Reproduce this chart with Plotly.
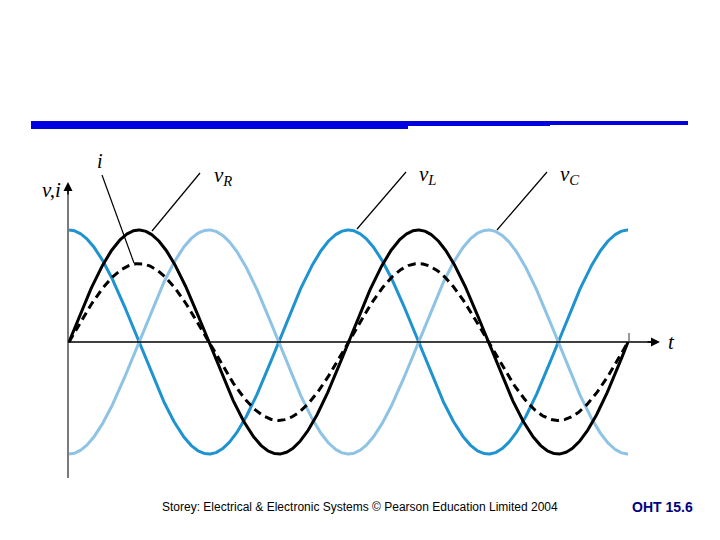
import numpy as np
import plotly.graph_objects as go

# ---- data ----
series_names = ["vL", "vC", "vR", "i"]
amplitudes = [1.0, 1.0, 1.0, 0.70]          # relative peak values
phases_deg = [90.0, -90.0, 0.0, 0.0]        # phase offsets (deg)
colors = ["#1F93D0", "#8EC3E6", "#000000", "#000000"]
t_deg = np.linspace(0, 720, 721)            # two cycles

W, H = 720, 540
OFF = 8  # page body margin
# pixel mapping used for axis ranges
x0_px, deg_per_px = 69.0 - OFF, 720.0 / 559.0
y0_px, px_per_unit = 342.0 - OFF, 112.0

xr = [-x0_px * deg_per_px, (W - x0_px) * deg_per_px]
yr = [-(H - y0_px) / px_per_unit, y0_px / px_per_unit]

def px(x):
    return (x - OFF) / W

def py(y):
    return 1 - (y - OFF) / H

fig = go.Figure()
for name, a, ph, c in zip(series_names, amplitudes, phases_deg, colors):
    yv = a * np.sin(np.radians(t_deg + ph))
    line = dict(color=c, width=3)
    if name == "i":
        line["dash"] = "8px,5px"
    fig.add_trace(go.Scatter(x=t_deg, y=yv, mode="lines", line=line,
                             name=name, hoverinfo="skip", showlegend=False))

shapes = []
# header bars
blue = "#0000E0"
shapes.append(dict(type="rect", xref="paper", yref="paper", x0=px(31), x1=px(408),
                   y0=py(129), y1=py(121), fillcolor=blue, line_width=0))
shapes.append(dict(type="rect", xref="paper", yref="paper", x0=px(408), x1=px(550),
                   y0=py(126), y1=py(121), fillcolor=blue, line_width=0))
shapes.append(dict(type="rect", xref="paper", yref="paper", x0=px(550), x1=px(688),
                   y0=py(125), y1=py(121), fillcolor=blue, line_width=0))
# axes
shapes.append(dict(type="line", xref="paper", yref="paper", x0=px(68), x1=px(68),
                   y0=py(478), y1=py(190), line=dict(color="#333333", width=1.3)))
shapes.append(dict(type="line", xref="paper", yref="paper", x0=px(68), x1=px(652),
                   y0=py(342), y1=py(342), line=dict(color="#000000", width=1.5)))
shapes.append(dict(type="line", xref="paper", yref="paper", x0=px(629), x1=px(629),
                   y0=py(333), y1=py(342), line=dict(color="#333333", width=1)))
# leader lines
for (a, b, c_, d) in [(102, 175, 134, 263), (200, 173, 152, 231),
                      (406, 172, 357, 229), (547, 172, 497, 230)]:
    shapes.append(dict(type="line", xref="paper", yref="paper", x0=px(a), y0=py(b),
                       x1=px(c_), y1=py(d), line=dict(color="#000000", width=1.2)))

annotations = []
# arrowheads
annotations.append(dict(xref="paper", yref="paper", x=px(68), y=py(182), ax=0, ay=14,
                        showarrow=True, arrowhead=2, arrowsize=1.2, arrowwidth=1.5,
                        arrowcolor="#000000", text=""))
annotations.append(dict(xref="paper", yref="paper", x=px(660), y=py(342), ax=-14, ay=0,
                        showarrow=True, arrowhead=2, arrowsize=1.2, arrowwidth=1.5,
                        arrowcolor="#000000", text=""))
serif = "Liberation Serif, DejaVu Serif, serif"
labels = [
    ("<i>v,i</i>", 51, 190, 21),
    ("<i>i</i>", 100, 161, 20),
    ("<i>v</i><sub><i>R</i></sub>", 223, 176, 21),
    ("<i>v</i><sub><i>L</i></sub>", 428, 175, 21),
    ("<i>v</i><sub><i>C</i></sub>", 569, 175, 21),
    ("<i>t</i>", 671, 342, 21),
]
for txt, x, y, s in labels:
    annotations.append(dict(xref="paper", yref="paper", x=px(x), y=py(y), text=txt,
                            showarrow=False, xanchor="center", yanchor="middle",
                            font=dict(family=serif, size=s, color="#000000")))
annotations.append(dict(xref="paper", yref="paper", x=px(360), y=py(507),
                        text="Storey: Electrical &amp; Electronic Systems © Pearson Education Limited 2004",
                        showarrow=False, xanchor="center", yanchor="middle",
                        font=dict(family="Liberation Sans, Arial", size=12, color="#000000")))
annotations.append(dict(xref="paper", yref="paper", x=px(662), y=py(507),
                        text="<b>OHT 15.6</b>", showarrow=False, xanchor="center",
                        yanchor="middle",
                        font=dict(family="Liberation Sans, Arial", size=14, color="#000080")))

fig.update_layout(
    width=W, height=H, margin=dict(l=0, r=0, t=0, b=0),
    paper_bgcolor="white", plot_bgcolor="white",
    xaxis=dict(range=xr, visible=False, fixedrange=True),
    yaxis=dict(range=yr, visible=False, fixedrange=True),
    shapes=shapes, annotations=annotations, showlegend=False,
)
fig.write_html("out.html")
